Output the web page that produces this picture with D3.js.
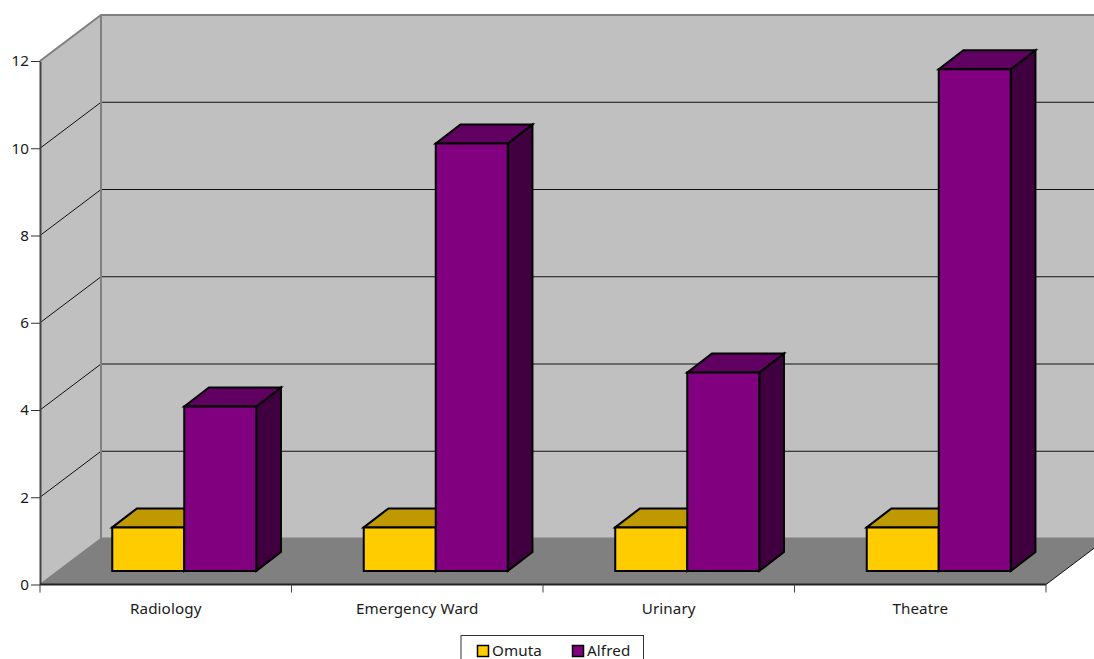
<!DOCTYPE html>
<html>
<head>
<meta charset="utf-8">
<script src="https://cdn.jsdelivr.net/npm/d3@7"></script>
<style>
  html, body { margin: 0; padding: 0; background: #fff; overflow: hidden; }
  text { font-family: "Noto Sans", sans-serif; font-size: 15.2px; letter-spacing: 0.1px; fill: #1a1a1a; }
</style>
</head>
<body>
<svg id="chart" width="1094" height="659"></svg>
<script>
// Chart values
const categories = ["Radiology", "Emergency Ward", "Urinary", "Theatre"];
const seriesNames = ["Omuta", "Alfred"];
const omuta = [1, 1, 1, 1];
const alfred = [3.77, 9.8, 4.55, 11.5];
const yTicks = [0, 2, 4, 6, 8, 10, 12];

// Colours: face, top, side per series
const palette = {
  Omuta: { face: "#FFCC00", top: "#BF9900", side: "#7F6600" },
  Alfred: { face: "#800080", top: "#600060", side: "#400040" }
};

// Plot geometry
const left = 40, right = 1046, floorY = 584.5, topY = 61;
const depthX = 61, depthY = 46;      // depth of the plot box
const barDepthX = 24.7, barDepthY = 19; // depth of each bar
const barShiftX = 18.5, barShiftY = 13.5;
const barWidth = 72;

const svg = d3.select("#chart");
const y = d3.scaleLinear().domain([0, 12]).range([floorY, topY]);
const x = d3.scaleBand().domain(categories).range([left, right]);
const xInner = d3.scaleBand().domain(seriesNames)
  .range([(x.bandwidth() - 2 * barWidth) / 2, (x.bandwidth() + 2 * barWidth) / 2]);

const poly = pts => "M" + pts.map(p => p.join(",")).join("L") + "Z";

// Walls and floor
const walls = svg.append("g");
walls.append("path")
  .attr("d", poly([[left + depthX, y(12) - depthY], [right + depthX, y(12) - depthY], [right + depthX, y(0) - depthY], [left + depthX, y(0) - depthY]]))
  .attr("fill", "#C0C0C0");
walls.append("path")
  .attr("d", poly([[left, y(12)], [left + depthX, y(12) - depthY], [left + depthX, y(0) - depthY], [left, y(0)]]))
  .attr("fill", "#C0C0C0");
walls.append("path")
  .attr("d", poly([[left, y(0)], [left + depthX, y(0) - depthY], [right + depthX, y(0) - depthY], [right, y(0)]]))
  .attr("fill", "#808080");

// Gridlines on the side and back walls
const grid = svg.append("g").attr("fill", "none").attr("stroke", "#111").attr("stroke-width", 1);
yTicks.filter(t => t > 0 && t < 12).forEach(t => {
  grid.append("path").attr("d", d3.line()([
    [left, y(t)], [left + depthX, y(t) - depthY], [right + depthX, y(t) - depthY]
  ]));
});

// Grey box edges: top of the walls, rear corner and rear floor line
svg.append("path")
  .attr("d", d3.line()([[left, y(12)], [left + depthX, y(12) - depthY], [right + depthX, y(12) - depthY]]))
  .attr("fill", "none").attr("stroke", "#808080").attr("stroke-width", 2);
svg.append("line")
  .attr("x1", left + depthX).attr("x2", left + depthX)
  .attr("y1", y(12) - depthY).attr("y2", y(0) - depthY)
  .attr("stroke", "#808080").attr("stroke-width", 2);
svg.append("line")
  .attr("x1", left + depthX).attr("x2", right + depthX)
  .attr("y1", y(0) - depthY).attr("y2", y(0) - depthY)
  .attr("stroke", "#808080").attr("stroke-width", 2);
svg.append("line")
  .attr("x1", left).attr("y1", y(0)).attr("x2", left + depthX).attr("y2", y(0) - depthY)
  .attr("stroke", "#808080").attr("stroke-width", 1.5);

// Floor edge on the right
svg.append("line")
  .attr("x1", right).attr("y1", y(0)).attr("x2", right + depthX).attr("y2", y(0) - depthY)
  .attr("stroke", "#111").attr("stroke-width", 1);

// Y axis
const yAxis = svg.append("g").attr("transform", `translate(${left},0)`)
  .call(d3.axisLeft(y).tickValues(yTicks).tickSize(9).tickPadding(2).tickSizeOuter(0));
yAxis.select(".domain").attr("stroke", "#444").attr("stroke-width", 2);
yAxis.selectAll("line").attr("stroke", "#333");
svg.selectAll("g").attr("font-family", null).attr("font-size", null);

// Floor front edge and category ticks
const baseEdges = [left, ...categories.map(c => x(c) + x.bandwidth())];
svg.append("line").attr("x1", left).attr("x2", right).attr("y1", y(0)).attr("y2", y(0))
  .attr("stroke", "#222").attr("stroke-width", 2);
svg.selectAll("line.xtick").data(baseEdges).join("line").attr("class", "xtick")
  .attr("x1", d => d).attr("x2", d => d)
  .attr("y1", y(0)).attr("y2", y(0) + 8)
  .attr("stroke", "#444").attr("stroke-width", 1);
svg.selectAll("text.xlabel").data(categories).join("text").attr("class", "xlabel")
  .attr("x", d => x(d) + x.bandwidth() / 2).attr("y", 614)
  .attr("text-anchor", "middle").text(d => d);

// Bars: each drawn as top, side and front faces
const rows = categories.flatMap((c, i) => [
  { category: c, series: "Omuta", value: omuta[i] },
  { category: c, series: "Alfred", value: alfred[i] }
]);
const bars = svg.append("g").attr("stroke", "#000").attr("stroke-width", 2).attr("stroke-linejoin", "miter");
rows.forEach(d => {
  const x0 = x(d.category) + xInner(d.series) + barShiftX;
  const x1 = x0 + barWidth;
  const yb = y(0) - barShiftY;
  const yt = yb - (y(0) - y(d.value));
  const c = palette[d.series];
  bars.append("path").attr("fill", c.side)
    .attr("d", poly([[x1, yb], [x1 + barDepthX, yb - barDepthY], [x1 + barDepthX, yt - barDepthY], [x1, yt]]));
  bars.append("path").attr("fill", c.top)
    .attr("d", poly([[x0, yt], [x0 + barDepthX, yt - barDepthY], [x1 + barDepthX, yt - barDepthY], [x1, yt]]));
  bars.append("path").attr("fill", c.face)
    .attr("d", poly([[x0, yb], [x0, yt], [x1, yt], [x1, yb]]));
});

// Legend
const legend = svg.append("g");
legend.append("rect").attr("x", 461).attr("y", 635.5).attr("width", 182.5).attr("height", 40)
  .attr("fill", "#fff").attr("stroke", "#333").attr("stroke-width", 1);
const legendX = d3.scalePoint().domain(seriesNames).range([477, 572]);
seriesNames.forEach(s => {
  legend.append("rect").attr("x", legendX(s) + 0.5).attr("y", 645.5).attr("width", 11).attr("height", 11)
    .attr("fill", palette[s].face).attr("stroke", "#000").attr("stroke-width", 1.5);
  legend.append("text").attr("x", legendX(s) + 15).attr("y", 656).text(s);
});
</script>
</body>
</html>
